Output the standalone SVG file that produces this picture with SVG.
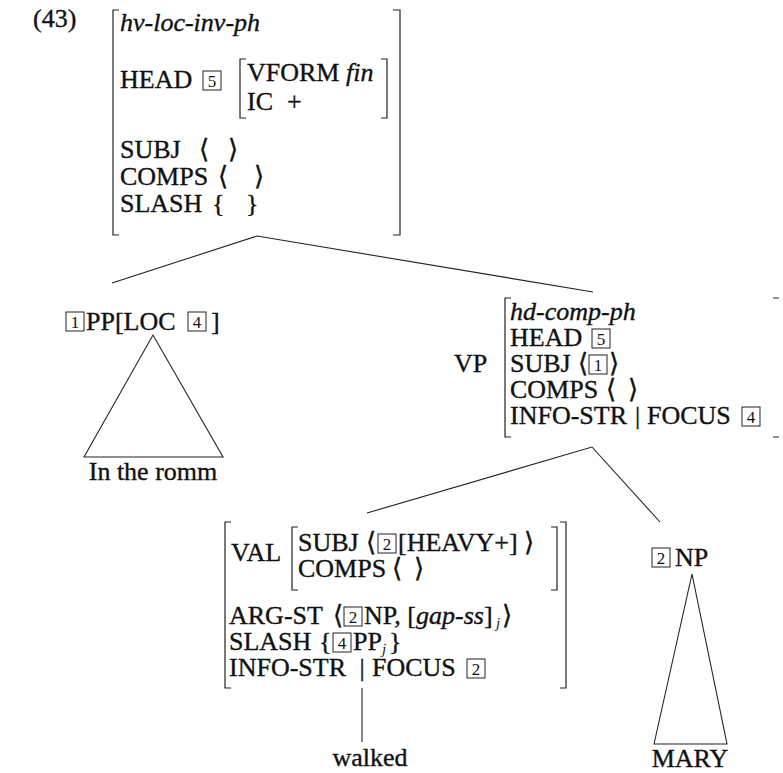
<svg xmlns="http://www.w3.org/2000/svg" width="783" height="773" viewBox="0 0 783 773">
<style>
.t{font-family:"Liberation Serif","DejaVu Serif",serif;font-size:26px;fill:#111;stroke:#111;stroke-width:0.35}
.i{font-style:italic}
.sub{font-family:"Liberation Serif","DejaVu Serif",serif;font-size:15px;font-style:italic;fill:#111}
.n{font-family:"Liberation Serif","DejaVu Serif",serif;font-size:17px;fill:#111;text-anchor:middle}
.bx{fill:none;stroke:#222;stroke-width:1}
.br{fill:none;stroke:#222;stroke-width:1.2}
.ln{fill:none;stroke:#222;stroke-width:1.1}
.m{text-anchor:middle}
</style>

<g id="ex-num"><text class="t" x="33" y="27">(43)</text></g>

<g id="hv-loc-inv-ph">
<path class="br" d="M119,10H113V235H119"/>
<path class="br" d="M393,10H400V235H393"/>
<text class="t i" x="120" y="31">hv-loc-inv-ph</text>
<text class="t" x="120" y="88">HEAD</text>
<rect class="bx" x="203" y="71" width="18" height="19"/><text class="n" x="212" y="87">5</text>
<path class="br" d="M246,59H240V118H246"/>
<path class="br" d="M381,59H387V118H381"/>
<text class="t" x="247" y="81">VFORM <tspan class="i">fin</tspan></text>
<text class="t" x="247" y="110">IC</text><text class="t" x="287" y="110">+</text>
<text class="t" x="120" y="158">SUBJ</text><text class="t" x="199" y="158">⟨</text><text class="t" x="228" y="158">⟩</text>
<text class="t" x="120" y="185">COMPS</text><text class="t" x="218" y="185">⟨</text><text class="t" x="254" y="185">⟩</text>
<text class="t" x="120" y="212">SLASH</text><text class="t" x="212" y="212">{</text><text class="t" x="246" y="212">}</text>
</g>

<g id="pp">
<rect class="bx" x="66" y="312" width="18" height="19"/><text class="n" x="75" y="328">1</text>
<text class="t" x="86" y="330">PP[LOC</text>
<rect class="bx" x="188" y="312" width="18" height="19"/><text class="n" x="197" y="328">4</text>
<text class="t" x="211" y="330">]</text>
</g>

<g id="in-the-room"><text class="t m" x="153" y="480">In the romm</text></g>

<g id="vp">
<text class="t" x="454" y="372">VP</text>
<path class="br" d="M511,298H505V437H511"/>
<path class="br" d="M773,298H779M773,437H779"/>
<text class="t i" x="510" y="320">hd-comp-ph</text>
<text class="t" x="510" y="346">HEAD</text>
<rect class="bx" x="592" y="329" width="18" height="19"/><text class="n" x="601" y="345">5</text>
<text class="t" x="510" y="372">SUBJ</text><text class="t" x="578" y="372">⟨</text>
<rect class="bx" x="589" y="355" width="18" height="19"/><text class="n" x="598" y="371">1</text>
<text class="t" x="609" y="372">⟩</text>
<text class="t" x="510" y="398">COMPS</text><text class="t" x="606" y="398">⟨</text><text class="t" x="628" y="398">⟩</text>
<text class="t" x="510" y="424">INFO-STR</text><text class="t" x="635" y="424">|</text><text class="t" x="647" y="424">FOCUS</text>
<rect class="bx" x="742" y="407" width="18" height="19"/><text class="n" x="751" y="423">4</text>
</g>

<g id="head-dtr">
<path class="br" d="M231,522H225V688H231"/>
<path class="br" d="M560,522H566V688H560"/>
<text class="t" x="231" y="561">VAL</text>
<path class="br" d="M298,527H292V590H298"/>
<path class="br" d="M551,527H557V590H551"/>
<text class="t" x="298" y="551">SUBJ</text><text class="t" x="366" y="551">⟨</text>
<rect class="bx" x="378" y="534" width="18" height="19"/><text class="n" x="387" y="550">2</text>
<text class="t" x="398" y="551">[HEAVY+]</text><text class="t" x="524" y="551">⟩</text>
<text class="t" x="298" y="577">COMPS</text><text class="t" x="392" y="577">⟨</text><text class="t" x="414" y="577">⟩</text>
<text class="t" x="229" y="624">ARG-ST</text><text class="t" x="333" y="624">⟨</text>
<rect class="bx" x="344" y="607" width="18" height="19"/><text class="n" x="353" y="623">2</text>
<text class="t" x="364" y="624">NP, [<tspan class="i">gap-ss</tspan>]</text><text class="sub" x="496" y="628">j</text><text class="t" x="502" y="624">⟩</text>
<text class="t" x="229" y="650">SLASH</text><text class="t" x="319" y="650">{</text>
<rect class="bx" x="333" y="633" width="18" height="19"/><text class="n" x="342" y="649">4</text>
<text class="t" x="353" y="650">PP</text><text class="sub" x="382" y="654">j</text><text class="t" x="389" y="650">}</text>
<text class="t" x="229" y="676">INFO-STR</text><text class="t" x="359.5" y="676">|</text><text class="t" x="372" y="676">FOCUS</text>
<rect class="bx" x="467" y="659" width="18" height="19"/><text class="n" x="476" y="675">2</text>
</g>

<g id="np">
<rect class="bx" x="652" y="548" width="18" height="19"/><text class="n" x="661" y="564">2</text>
<text class="t" x="675" y="566">NP</text>
</g>

<g id="walked"><text class="t m" x="370" y="766">walked</text></g>
<g id="mary"><text class="t m" x="690" y="767">MARY</text></g>

<g id="connectors">
<path class="ln" d="M112,283L257,236L593,292"/>
<path class="ln" d="M367,513L592,447L660,522"/>
<path class="ln" d="M84,457L153,335L223,457Z"/>
<path class="ln" d="M654,744L692,574L727,744Z"/>
<path class="ln" d="M362,688V742"/>
</g>
</svg>
